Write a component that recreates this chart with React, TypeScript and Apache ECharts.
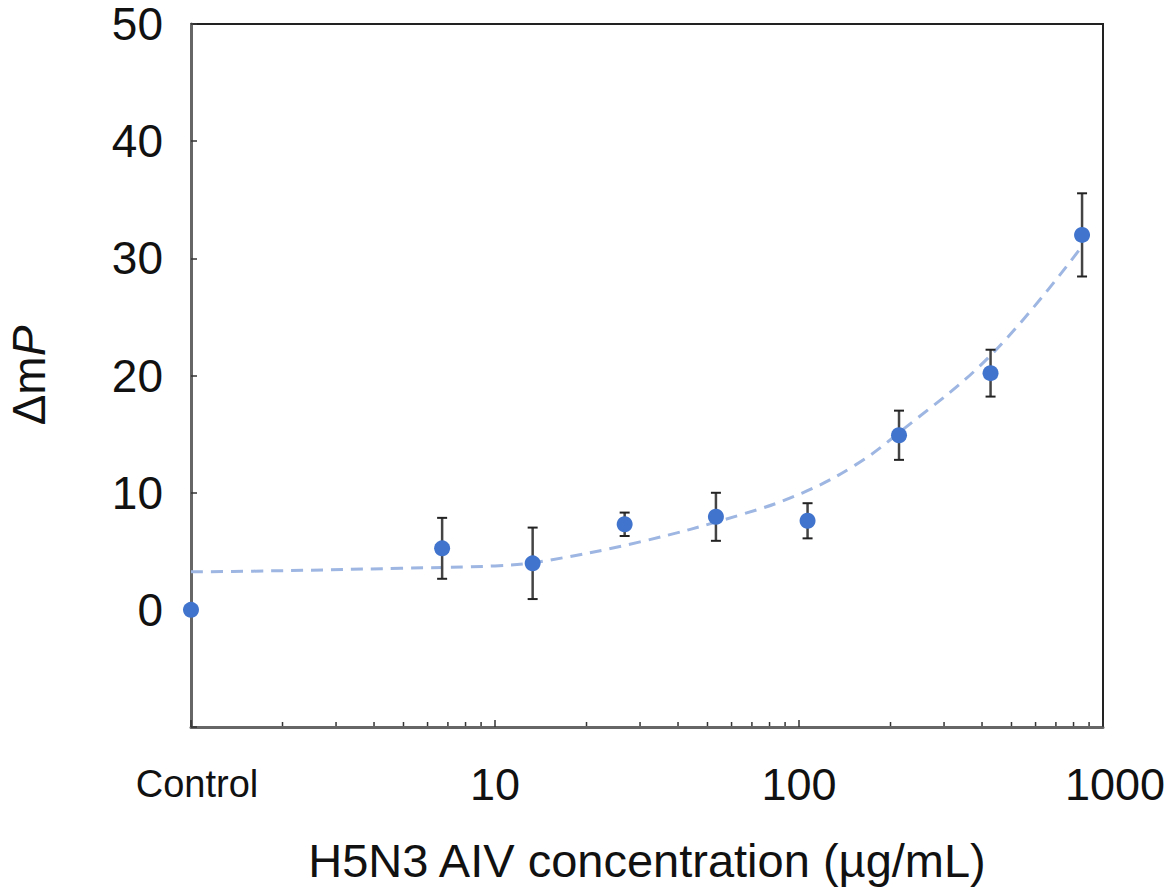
import React, { useEffect, useRef } from "react";
import * as echarts from "echarts";

// Data
const concentrations = [1, 6.7, 13.3, 26.7, 53.3, 106.7, 213.3, 426.7, 853.3]; // 1 = Control
const meanDeltaMP = [0, 5.25, 3.97, 7.3, 7.94, 7.6, 14.9, 20.2, 32.0];
const errDeltaMP = [0, 2.6, 3.05, 1.0, 2.05, 1.5, 2.1, 2.0, 3.55];

const fitX = [1, 1.6, 4.9, 10, 14, 30, 64, 102, 153, 213, 430, 840];
const fitY = [3.25, 3.3, 3.55, 3.75, 4.1, 5.8, 8.1, 9.95, 12.35, 15.1, 21.8, 30.8];

const minorTickValues = [2, 3, 4, 5, 6, 7, 8, 9, 20, 30, 40, 50, 60, 70, 80, 90, 200, 300, 400, 500, 600, 700, 800, 900];
const yTickLabels = ["0", "10", "20", "30", "40", "50"];

const FONT = "'Liberation Sans', Arial, Helvetica, sans-serif";

export default function App() {
  const ref = useRef<HTMLDivElement>(null);

  useEffect(() => {
    document.body.style.margin = "0";
    if (!ref.current) return;
    const chart = echarts.init(ref.current, null, { renderer: "svg" });

    const points = concentrations.map((c, i) => [c, meanDeltaMP[i]]);
    const errData = concentrations
      .map((c, i) => [c, meanDeltaMP[i] - errDeltaMP[i], meanDeltaMP[i] + errDeltaMP[i]])
      .filter((d, i) => errDeltaMP[i] > 0);
    const fitData = fitX.map((x, i) => [x, fitY[i]]);

    chart.setOption({
      animation: false,
      backgroundColor: "#ffffff",
      grid: {
        left: 191,
        right: 69,
        top: 24,
        bottom: 166,
        outerBoundsMode: "none",
        containLabel: false,
        show: true,
        borderColor: "#222",
        borderWidth: 2,
        backgroundColor: "transparent",
      },
      xAxis: {
        type: "log",
        logBase: 10,
        min: 1,
        max: 1000,
        name: "H5N3 AIV concentration (µg/mL)",
        nameLocation: "middle",
        nameGap: 110,
        nameTextStyle: { fontFamily: FONT, fontSize: 47, color: "#111" },
        axisLine: { show: true, onZero: false, lineStyle: { color: "#666", width: 3 } },
        axisTick: { show: true, inside: true, length: 7, lineStyle: { color: "#333", width: 1.5 } },
        splitLine: { show: false },
        axisLabel: {
          margin: 32,
          fontFamily: FONT,
          fontSize: 45,
          color: "#111",
          lineHeight: 50,
          formatter: (v: number) => {
            if (Math.abs(v - 1) < 1e-6) return "{c|Control}";
            if (Math.abs(v - 1000) < 1e-3) return "{k|1000}";
            return String(Math.round(v));
          },
          rich: {
            c: { fontFamily: FONT, fontSize: 38, color: "#111", lineHeight: 50, padding: [0, 0, 0, 12] },
            k: { fontFamily: FONT, fontSize: 45, color: "#111", lineHeight: 50, padding: [0, 0, 0, 24] },
          },
        },
      },
      yAxis: {
        type: "value",
        min: -10,
        max: 50,
        interval: 10,
        name: "Δm{it|P}",
        nameLocation: "middle",
        nameRotate: 90,
        nameGap: 139,
        nameTextStyle: {
          fontFamily: FONT,
          fontSize: 46,
          color: "#111",
          rich: { it: { fontFamily: FONT, fontSize: 46, fontStyle: "italic", color: "#111" } },
        },
        axisLine: { show: true, onZero: false, lineStyle: { color: "#666", width: 3 } },
        axisTick: { show: true, inside: true, length: 6, lineStyle: { color: "#333", width: 1.5 } },
        splitLine: { show: false },
        axisLabel: {
          margin: 28,
          fontFamily: FONT,
          fontSize: 46,
          lineHeight: 40,
          color: "#111",
          formatter: (v: number) => (yTickLabels.includes(String(v)) ? String(v) : ""),
        },
      },
      series: [
        {
          type: "custom",
          name: "minorTicks",
          coordinateSystem: "cartesian2d",
          clip: false,
          silent: true,
          z: 5,
          data: minorTickValues.map((v) => [v, -10]),
          renderItem: (params: any, api: any) => {
            const p = api.coord([api.value(0), -10]);
            return {
              type: "line",
              shape: { x1: p[0], y1: p[1] - 1, x2: p[0], y2: p[1] - 5 },
              style: { stroke: "#333", lineWidth: 1.5 },
            };
          },
        },
        {
          type: "line",
          name: "fit",
          data: fitData,
          smooth: 0.4,
          showSymbol: false,
          symbol: "none",
          z: 2,
          lineStyle: { color: "#9db6e2", width: 3, type: [12, 8] },
        },
        {
          type: "custom",
          name: "errorBars",
          coordinateSystem: "cartesian2d",
          clip: false,
          z: 3,
          data: errData,
          renderItem: (params: any, api: any) => {
            const x = api.value(0);
            const lo = api.coord([x, api.value(1)]);
            const hi = api.coord([x, api.value(2)]);
            const hw = 5;
            return {
              type: "group",
              children: [
                { type: "line", shape: { x1: lo[0], y1: lo[1], x2: hi[0], y2: hi[1] }, style: { stroke: "#444", lineWidth: 2.5 } },
                { type: "line", shape: { x1: lo[0] - hw, y1: lo[1], x2: lo[0] + hw, y2: lo[1] }, style: { stroke: "#222", lineWidth: 2 } },
                { type: "line", shape: { x1: hi[0] - hw, y1: hi[1], x2: hi[0] + hw, y2: hi[1] }, style: { stroke: "#222", lineWidth: 2 } },
              ],
            };
          },
        },
        {
          type: "scatter",
          name: "mean",
          data: points,
          symbol: "circle",
          symbolSize: 16,
          clip: false,
          z: 4,
          itemStyle: { color: "#4174cc", opacity: 1 },
        },
      ],
    });

    return () => chart.dispose();
  }, []);

  return <div ref={ref} style={{ width: 1172, height: 893 }} />;
}
